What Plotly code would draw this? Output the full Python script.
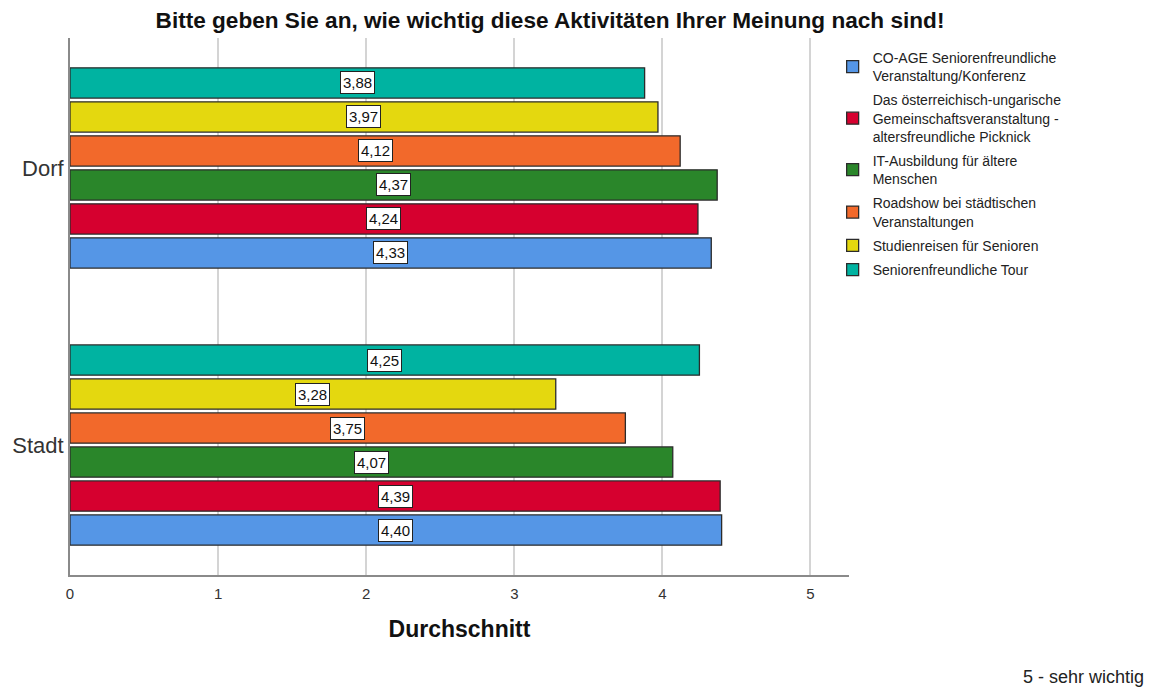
import plotly.graph_objects as go

# Kategorien (numerische Position auf der y-Achse) und Mittelwerte je Aktivität
orte = ["Stadt", "Dorf"]
orte_pos = [0, 1]

aktivitaeten = [
    "CO-AGE Seniorenfreundliche<br>Veranstaltung/Konferenz",
    "Das österreichisch-ungarische<br>Gemeinschaftsveranstaltung -<br>altersfreundliche Picknick",
    "IT-Ausbildung für ältere<br>Menschen",
    "Roadshow bei städtischen<br>Veranstaltungen",
    "Studienreisen für Senioren",
    "Seniorenfreundliche Tour",
]

# Werte in der Reihenfolge [Stadt, Dorf]
co_age = [4.40, 4.33]
picknick = [4.39, 4.24]
it_ausbildung = [4.07, 4.37]
roadshow = [3.75, 4.12]
studienreisen = [3.28, 3.97]
tour = [4.25, 3.88]

werte = [co_age, picknick, it_ausbildung, roadshow, studienreisen, tour]
farben = ["#5596E6", "#D6002F", "#2A862A", "#F2692B", "#E4D80F", "#00B3A1"]

FONT = "Liberation Sans, Arial, sans-serif"
BARGAP = 0.264
BARGROUPGAP = 0.11

# Plotbereich in Pixeln (für Positionen außerhalb der Achsen)
L, R, T, B = 68, 304, 38, 116
W, H = 1153, 691
PW, PH = W - L - R, H - T - B

fig = go.Figure()
for k, (name, vals, col) in enumerate(zip(aktivitaeten, werte, farben)):
    fig.add_trace(go.Bar(
        y=orte_pos, x=vals, name=name, orientation="h", legendgroup=f"g{k}",
        marker=dict(color=col, line=dict(color="#2b2b2b", width=1.3)),
        hoverinfo="x+name",
    ))

# Wertebeschriftungen in weißen Kästchen, mittig im jeweiligen Balken
n = len(werte)
slot = (1 - BARGAP) / n
annotations = []
for i, vals in enumerate(werte):
    for p, v in zip(orte_pos, vals):
        annotations.append(dict(
            x=v / 2, y=p - (1 - BARGAP) / 2 + (i + 0.5) * slot,
            xref="x", yref="y", showarrow=False,
            text=f"{v:.2f}".replace(".", ","),
            font=dict(family=FONT, size=15, color="#111"),
            bgcolor="white", bordercolor="#222", borderwidth=1, borderpad=2,
        ))

annotations.append(dict(
    x=(1147 - L) / PW, y=(H - B - 677) / PH, xref="paper", yref="paper",
    showarrow=False, text="5 - sehr wichtig",
    font=dict(family=FONT, size=18, color="#222"),
    xanchor="right", yanchor="middle",
))

fig.update_layout(
    width=W, height=H,
    margin=dict(l=L, r=R, t=T, b=B),
    paper_bgcolor="white", plot_bgcolor="white",
    barmode="group", bargap=BARGAP, bargroupgap=BARGROUPGAP,
    font=dict(family=FONT, color="#222"),
    title=dict(
        text="<b>Bitte geben Sie an, wie wichtig diese Aktivitäten Ihrer Meinung nach sind!</b>",
        x=550 / W, xanchor="center", y=1 - 20 / H, yanchor="middle",
        font=dict(size=22.6, color="#111"),
    ),
    xaxis=dict(
        range=[0, 5.26], tickvals=[0, 1, 2, 3, 4, 5], ticktext=["0", "1", "2", "3", "4", "5"],
        showgrid=True, gridcolor="#d4d4d4", gridwidth=2,
        showline=True, linecolor="#8a8a8a", linewidth=2, zeroline=False,
        ticks="", tickfont=dict(size=15, color="#333"), ticklabelstandoff=4,
        title=dict(text="<b>Durchschnitt</b>", font=dict(size=23, color="#111"), standoff=20),
        fixedrange=True,
    ),
    yaxis=dict(
        range=[-0.469, 1.469], tickvals=orte_pos, ticktext=orte,
        showgrid=False, showline=True, linecolor="#8a8a8a", linewidth=2, zeroline=False,
        ticks="", tickfont=dict(size=22, color="#333"), ticklabelstandoff=0,
        fixedrange=True,
    ),
    legend=dict(
        x=0.979, xanchor="left", y=1 - 4 / PH, yanchor="top",
        traceorder="grouped", bgcolor="rgba(0,0,0,0)",
        font=dict(size=14, color="#222"), itemwidth=30, tracegroupgap=3,
    ),
    annotations=annotations,
)

fig.write_html("out.html")
